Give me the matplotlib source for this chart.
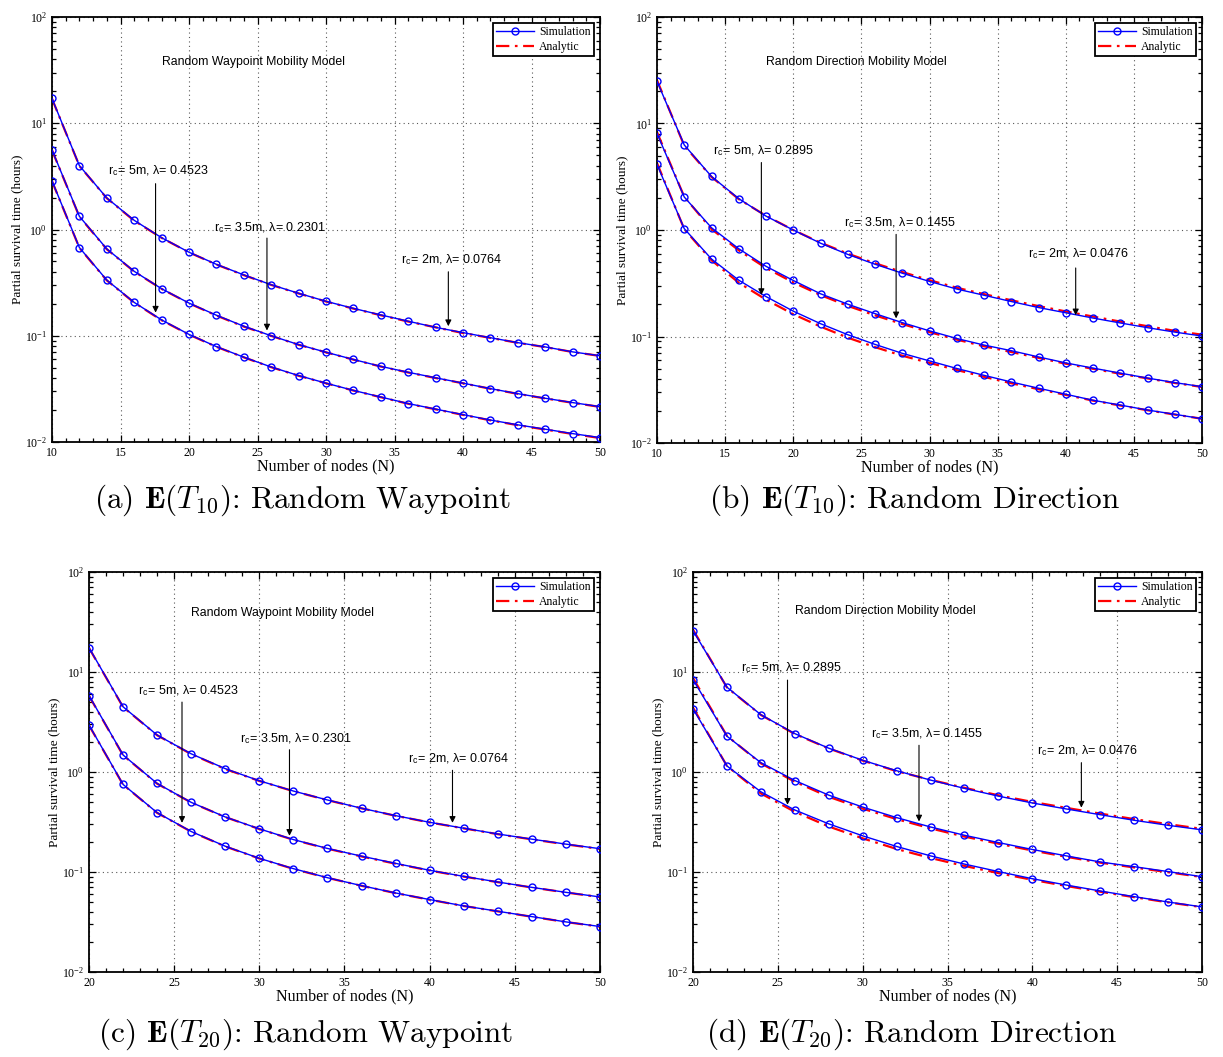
import matplotlib
matplotlib.use("Agg")
import matplotlib.pyplot as plt
from matplotlib.ticker import LogLocator, MultipleLocator, NullFormatter

plt.rcParams['font.family'] = ['Liberation Serif', 'DejaVu Serif']
plt.rcParams['mathtext.fontset'] = 'stix'

# ---------------- data ----------------
N_T10 = [10, 12, 14, 16, 18, 20, 22, 24, 26, 28, 30, 32, 34, 36, 38, 40, 42, 44, 46, 48, 50]
N_T20 = [20, 22, 24, 26, 28, 30, 32, 34, 36, 38, 40, 42, 44, 46, 48, 50]

# (a) Random Waypoint, E(T10)
rwp10_sim_2m = [17.1, 3.99, 1.98, 1.22, 0.837, 0.611, 0.470, 0.374, 0.302, 0.251, 0.211,
                0.181, 0.157, 0.137, 0.120, 0.107, 0.0958, 0.0861, 0.0785, 0.0705, 0.0648]
rwp10_sim_35m = [5.61, 1.33, 0.656, 0.404, 0.277, 0.203, 0.156, 0.123, 0.100, 0.0825, 0.0700,
                 0.0598, 0.0515, 0.0453, 0.0402, 0.0358, 0.0318, 0.0285, 0.0258, 0.0235, 0.0215]
rwp10_sim_5m = [2.87, 0.676, 0.334, 0.206, 0.141, 0.103, 0.0790, 0.0629, 0.0508, 0.0422, 0.0358,
                0.0306, 0.0265, 0.0230, 0.0204, 0.0181, 0.0161, 0.0145, 0.0132, 0.0120, 0.0110]
rwp10_ana_2m = [17.0, 3.97, 1.97, 1.21, 0.834, 0.609, 0.468, 0.372, 0.301, 0.250, 0.210,
                0.180, 0.156, 0.136, 0.120, 0.106, 0.0955, 0.0858, 0.0782, 0.0703, 0.0646]
rwp10_ana_35m = [5.58, 1.32, 0.652, 0.402, 0.276, 0.202, 0.155, 0.122, 0.0997, 0.0822, 0.0698,
                 0.0596, 0.0513, 0.0451, 0.0400, 0.0357, 0.0317, 0.0284, 0.0257, 0.0234, 0.0214]
rwp10_ana_5m = [2.85, 0.672, 0.332, 0.205, 0.140, 0.1025, 0.0787, 0.0626, 0.0506, 0.0420, 0.0357,
                0.0305, 0.0264, 0.0229, 0.0203, 0.0180, 0.0160, 0.0144, 0.0131, 0.0119, 0.0109]

# (b) Random Direction, E(T10)
rd10_sim_2m = [24.9, 6.29, 3.18, 1.97, 1.35, 1.00, 0.752, 0.590, 0.477, 0.393, 0.329,
               0.279, 0.244, 0.213, 0.187, 0.167, 0.149, 0.134, 0.121, 0.110, 0.101]
rd10_sim_35m = [8.07, 2.04, 1.05, 0.667, 0.456, 0.336, 0.252, 0.201, 0.164, 0.135, 0.113,
                0.0958, 0.0831, 0.0736, 0.0643, 0.0565, 0.0505, 0.0453, 0.0407, 0.0369, 0.0338]
rd10_sim_5m = [4.13, 1.03, 0.534, 0.338, 0.237, 0.173, 0.132, 0.104, 0.0843, 0.0695, 0.0590,
               0.0501, 0.0432, 0.0374, 0.0327, 0.0287, 0.0252, 0.0227, 0.0204, 0.0186, 0.0169]
rd10_ana_2m = [25.5, 6.20, 3.15, 1.95, 1.36, 1.00, 0.760, 0.600, 0.487, 0.403, 0.338,
               0.287, 0.250, 0.219, 0.193, 0.172, 0.154, 0.138, 0.125, 0.113, 0.104]
rd10_ana_35m = [8.30, 2.05, 1.02, 0.645, 0.440, 0.322, 0.245, 0.194, 0.158, 0.131, 0.110,
                0.0935, 0.0810, 0.0715, 0.0630, 0.0555, 0.0497, 0.0447, 0.0404, 0.0366, 0.0336]
rd10_ana_5m = [4.25, 1.02, 0.520, 0.320, 0.222, 0.162, 0.124, 0.0975, 0.0795, 0.0660, 0.0565,
               0.0485, 0.0418, 0.0364, 0.0320, 0.0283, 0.0250, 0.0225, 0.0203, 0.0185, 0.0169]

# (c) Random Waypoint, E(T20)
rwp20_sim_2m = [17.5, 4.49, 2.34, 1.52, 1.08, 0.817, 0.645, 0.525, 0.434, 0.366, 0.314,
                0.274, 0.240, 0.213, 0.190, 0.171]
rwp20_sim_35m = [5.82, 1.48, 0.768, 0.497, 0.355, 0.270, 0.211, 0.172, 0.144, 0.122, 0.104,
                 0.0904, 0.0794, 0.0702, 0.0626, 0.0563]
rwp20_sim_5m = [2.95, 0.751, 0.392, 0.254, 0.181, 0.137, 0.108, 0.0877, 0.0730, 0.0617, 0.0530,
                0.0458, 0.0405, 0.0358, 0.0317, 0.0285]
rwp20_ana_2m = [17.4, 4.46, 2.33, 1.51, 1.07, 0.814, 0.643, 0.523, 0.433, 0.365, 0.313,
                0.273, 0.239, 0.212, 0.189, 0.170]
rwp20_ana_35m = [5.78, 1.47, 0.764, 0.495, 0.354, 0.269, 0.210, 0.171, 0.143, 0.121, 0.1035,
                 0.0900, 0.0791, 0.0700, 0.0624, 0.0561]
rwp20_ana_5m = [2.93, 0.747, 0.390, 0.253, 0.180, 0.1365, 0.1075, 0.0874, 0.0728, 0.0615, 0.0528,
                0.0457, 0.0404, 0.0357, 0.0316, 0.0284]

# (d) Random Direction, E(T20)
rd20_sim_2m = [25.9, 7.05, 3.74, 2.42, 1.73, 1.31, 1.03, 0.830, 0.686, 0.574, 0.490,
               0.427, 0.374, 0.329, 0.293, 0.264]
rd20_sim_35m = [8.40, 2.28, 1.24, 0.822, 0.587, 0.446, 0.350, 0.282, 0.233, 0.197, 0.168,
                0.145, 0.126, 0.113, 0.101, 0.0897]
rd20_sim_5m = [4.29, 1.15, 0.634, 0.417, 0.303, 0.230, 0.180, 0.145, 0.120, 0.101, 0.0857,
               0.0741, 0.0646, 0.0567, 0.0501, 0.0448]
rd20_ana_2m = [26.5, 7.00, 3.72, 2.40, 1.72, 1.30, 1.02, 0.835, 0.695, 0.585, 0.502,
               0.438, 0.384, 0.338, 0.301, 0.270]
rd20_ana_35m = [8.70, 2.30, 1.22, 0.800, 0.565, 0.430, 0.338, 0.273, 0.226, 0.192, 0.164,
                0.142, 0.124, 0.111, 0.0995, 0.0890]
rd20_ana_5m = [4.40, 1.15, 0.610, 0.400, 0.285, 0.217, 0.170, 0.138, 0.115, 0.0975, 0.0835,
               0.0725, 0.0635, 0.0560, 0.0497, 0.0445]

legend_labels = ["Simulation", "Analytic"]
xlabel = "Number of nodes (N)"
ylabel = "Partial survival time (hours)"
model_titles = ["Random Waypoint Mobility Model", "Random Direction Mobility Model",
                "Random Waypoint Mobility Model", "Random Direction Mobility Model"]
captions = [r"(a) $\mathbf{E}(T_{10})$: Random Waypoint",
            r"(b) $\mathbf{E}(T_{10})$: Random Direction",
            r"(c) $\mathbf{E}(T_{20})$: Random Waypoint",
            r"(d) $\mathbf{E}(T_{20})$: Random Direction"]
labels_rwp = [r"r$_\mathdefault{c}$= 5m, λ= 0.4523", r"r$_\mathdefault{c}$= 3.5m, λ= 0.2301",
              r"r$_\mathdefault{c}$= 2m, λ= 0.0764"]
labels_rd = [r"r$_\mathdefault{c}$= 5m, λ= 0.2895", r"r$_\mathdefault{c}$= 3.5m, λ= 0.1455",
             r"r$_\mathdefault{c}$= 2m, λ= 0.0476"]

# ---------------- layout ----------------
fig = plt.figure(figsize=(12.23, 10.57), dpi=100)
W, H = 1223.0, 1057.0

def box(l, r, t, b):
    return [l / W, 1 - b / H, (r - l) / W, (b - t) / H]

panels = [
    dict(rect=box(52, 600, 17, 442), N=N_T10, xlim=(10, 50),
         sim=[rwp10_sim_2m, rwp10_sim_35m, rwp10_sim_5m], ana=[rwp10_ana_2m, rwp10_ana_35m, rwp10_ana_5m],
         labels=labels_rwp, title_xy=(18.0, 38),
         # (text x, text y, arrow x, arrow start y, arrow tip y)
         ann=[(14.1, 3.3, 17.56, 2.7, 0.165), (21.85, 0.97, 25.69, 0.83, 0.112), (35.5, 0.48, 38.93, 0.40, 0.123)],
         cap=(303, 500)),
    dict(rect=box(657, 1202, 17, 443), N=N_T10, xlim=(10, 50),
         sim=[rd10_sim_2m, rd10_sim_35m, rd10_sim_5m], ana=[rd10_ana_2m, rd10_ana_35m, rd10_ana_5m],
         labels=labels_rd, title_xy=(18.0, 38),
         ann=[(14.1, 5.2, 17.66, 4.3, 0.245), (23.7, 1.08, 27.55, 0.91, 0.148), (37.2, 0.55, 40.73, 0.44, 0.158)],
         cap=(914, 500)),
    dict(rect=box(89, 600, 572, 972), N=N_T20, xlim=(20, 50),
         sim=[rwp20_sim_2m, rwp20_sim_35m, rwp20_sim_5m], ana=[rwp20_ana_2m, rwp20_ana_35m, rwp20_ana_5m],
         labels=labels_rwp, title_xy=(26.0, 39),
         ann=[(22.9, 6.0, 25.46, 5.0, 0.31), (28.86, 2.0, 31.77, 1.67, 0.23), (38.7, 1.26, 41.34, 1.04, 0.31)],
         cap=(306, 1034)),
    dict(rect=box(693, 1202, 572, 972), N=N_T20, xlim=(20, 50),
         sim=[rd20_sim_2m, rd20_sim_35m, rd20_sim_5m], ana=[rd20_ana_2m, rd20_ana_35m, rd20_ana_5m],
         labels=labels_rd, title_xy=(26.0, 41),
         ann=[(22.85, 10.3, 25.57, 8.3, 0.47), (30.47, 2.24, 33.32, 1.85, 0.32), (40.29, 1.49, 42.89, 1.24, 0.44)],
         cap=(911, 1034)),
]

for i, p in enumerate(panels):
    ax = fig.add_axes(p["rect"])
    N = p["N"]
    for k in range(3):
        ax.plot(N, p["ana"][k], color="red", lw=1.6, linestyle=(0, (6, 2.5, 1.2, 2.5)), zorder=2,
                label=legend_labels[1] if k == 0 else None)
        ax.plot(N, p["sim"][k], color="blue", lw=1.0, marker="o", markersize=5,
                markerfacecolor="none", markeredgecolor="blue", markeredgewidth=1.0, zorder=3,
                label=legend_labels[0] if k == 0 else None)
    ax.set_yscale("log")
    ax.set_xlim(*p["xlim"])
    ax.set_ylim(1e-2, 1e2)
    ax.xaxis.set_major_locator(MultipleLocator(5))
    ax.xaxis.set_minor_locator(MultipleLocator(1))
    ax.yaxis.set_major_locator(LogLocator(base=10, numticks=10))
    ax.yaxis.set_minor_locator(LogLocator(base=10, subs=range(2, 10), numticks=20))
    ax.yaxis.set_minor_formatter(NullFormatter())
    ax.grid(True, which="major", linestyle=(0, (1, 3)), color="0.35", lw=0.8)
    ax.tick_params(which="both", direction="in", top=True, right=True, labelsize=8.5, width=0.9)
    ax.tick_params(which="major", length=5)
    ax.tick_params(which="minor", length=3)
    for s in ax.spines.values():
        s.set_linewidth(1.3)
    ax.set_xlabel(xlabel, fontsize=11.5, labelpad=0)
    ax.set_ylabel(ylabel, fontsize=9.5, labelpad=1)

    h, l = ax.get_legend_handles_labels()
    order = [l.index(legend_labels[0]), l.index(legend_labels[1])]
    leg = ax.legend([h[j] for j in order], [l[j] for j in order], loc="upper right",
                    fontsize=8.5, fancybox=False, framealpha=1, edgecolor="black",
                    handlelength=3.2, borderpad=0.3, labelspacing=0.2, borderaxespad=0.5,
                    handletextpad=0.4)
    leg.get_frame().set_linewidth(1.3)

    ax.text(p["title_xy"][0], p["title_xy"][1], model_titles[i], fontsize=8.8,
            family=["Liberation Sans", "DejaVu Sans"], va="center", ha="left")

    for (tx, ty, axx, ay0, ay1), lab in zip(p["ann"], p["labels"]):
        ax.text(tx, ty, lab, fontsize=9, family=["Liberation Sans", "DejaVu Sans"],
                va="baseline", ha="left")
        ax.annotate("", xy=(axx, ay1), xytext=(axx, ay0),
                    arrowprops=dict(arrowstyle="-|>", color="black", lw=0.8,
                                    mutation_scale=9, shrinkA=0, shrinkB=0))

    cx, cy = p["cap"]
    fig.text(cx / W, 1 - cy / H, captions[i], fontsize=22.5, family="cmr10",
             math_fontfamily="cm", ha="center", va="center")

fig.savefig("out.png", dpi=100)
